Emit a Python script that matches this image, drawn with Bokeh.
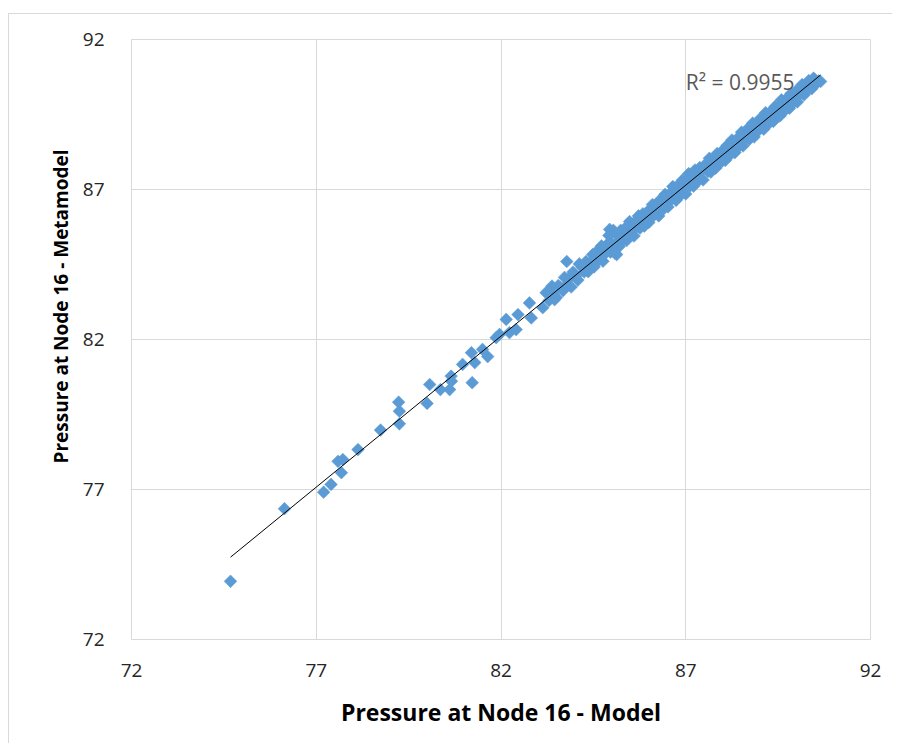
import numpy as np
from bokeh.plotting import figure
from bokeh.models import Range1d, FixedTicker, Label, ColumnDataSource, Title
from bokeh.embed import file_html
from bokeh.resources import INLINE

# ---- data ----
model_sparse = [74.68, 76.14, 77.20, 77.40, 77.59, 77.72, 77.68, 78.13, 78.74, 79.23,
                79.25, 79.25, 80.00, 80.07, 80.36, 80.61, 80.66, 80.65, 80.96, 81.22,
                81.20, 81.29, 81.50, 81.64, 81.87, 81.96, 82.14, 82.23, 82.41, 82.46,
                82.82, 82.77, 83.13, 83.22, 83.45, 83.78, 84.94, 85.13]
meta_sparse = [73.94, 76.36, 76.91, 77.17, 77.94, 78.00, 77.56, 78.33, 78.98, 79.91,
               79.61, 79.19, 79.87, 80.50, 80.33, 80.33, 80.61, 80.78, 81.17, 80.56,
               81.56, 81.23, 81.67, 81.43, 82.06, 82.17, 82.67, 82.23, 82.33, 82.83,
               82.72, 83.22, 83.06, 83.56, 83.33, 84.60, 85.67, 84.83]

model_band1 = [83.25, 83.30, 83.38, 83.42, 83.50, 83.55, 83.60, 83.68, 83.72, 83.80,
               83.85, 83.90, 83.95, 84.02, 84.08, 84.12, 84.20, 84.25, 84.30, 84.36,
               84.42, 84.48]
meta_band1 = [83.55, 83.30, 83.78, 83.52, 83.40, 83.80, 83.75, 83.63, 84.07, 83.85,
              84.05, 83.75, 84.25, 84.12, 83.98, 84.52, 84.40, 84.25, 84.60, 84.26,
              84.57, 84.83]

model_band2 = [84.52, 84.56, 84.60, 84.64, 84.68, 84.72, 84.76, 84.80, 84.84, 84.88,
               84.92, 84.96, 85.00, 85.04, 85.08, 85.12, 85.16, 85.20, 85.24, 85.28,
               85.32, 85.36, 85.40, 85.44, 85.48, 85.52, 85.56, 85.60, 85.64, 85.68,
               85.72, 85.76, 85.80, 85.84, 85.88, 85.92, 85.96]
meta_band2 = [84.42, 84.76, 84.95, 84.64, 84.83, 85.12, 84.61, 85.05, 84.89, 85.18,
              85.47, 84.91, 85.20, 85.64, 84.88, 85.22, 85.46, 85.10, 85.64, 85.43,
              85.32, 85.71, 85.30, 85.69, 85.93, 85.57, 85.76, 85.45, 85.94, 85.78,
              86.12, 85.71, 86.00, 86.19, 85.78, 86.07, 86.26]

model_band3 = [86.00, 86.05, 86.10, 86.14, 86.18, 86.22, 86.27, 86.31, 86.35, 86.40,
               86.44, 86.48, 86.52, 86.57, 86.61, 86.65, 86.70, 86.74, 86.78, 86.82,
               86.87, 86.91, 86.95, 87.00, 87.04, 87.08, 87.12, 87.17, 87.21, 87.25,
               87.30, 87.34, 87.38, 87.42, 87.47, 87.51, 87.55, 87.60, 87.64, 87.68,
               87.72, 87.77, 87.81, 87.85, 87.90, 87.94, 87.98]
meta_band3 = [85.90, 86.25, 86.50, 86.14, 86.48, 86.32, 86.12, 86.66, 86.50, 86.35,
              86.84, 86.68, 86.42, 86.87, 86.66, 87.10, 86.80, 86.64, 87.13, 87.02,
              86.82, 87.31, 87.10, 86.85, 87.34, 87.53, 87.12, 87.42, 87.11, 87.65,
              87.40, 87.29, 87.73, 87.62, 87.32, 87.81, 87.70, 87.60, 88.04, 87.58,
              87.97, 87.87, 87.71, 88.20, 88.10, 87.89, 88.28]

model_band4 = [88.03, 88.07, 88.12, 88.16, 88.20, 88.25, 88.29, 88.33, 88.38, 88.42,
               88.46, 88.51, 88.55, 88.59, 88.64, 88.68, 88.72, 88.77, 88.81, 88.85,
               88.90, 88.94, 88.98, 89.03, 89.07, 89.11, 89.16, 89.20, 89.24, 89.29,
               89.33, 89.37, 89.42, 89.46, 89.50, 89.55, 89.59, 89.63, 89.68, 89.72,
               89.76, 89.81, 89.85, 89.89, 89.94, 89.98, 90.02, 90.07, 90.11, 90.15,
               90.20, 90.24, 90.28, 90.33, 90.37, 90.41, 90.46, 90.50, 90.55, 90.60,
               90.65]
meta_band4 = [88.18, 87.97, 88.47, 88.36, 88.15, 88.65, 88.39, 88.23, 88.68, 88.62,
              88.46, 88.91, 88.45, 88.84, 88.74, 89.03, 88.67, 88.97, 89.21, 88.75,
              89.05, 89.24, 88.98, 89.38, 89.17, 89.01, 89.56, 89.40, 89.19, 89.59,
              89.48, 89.27, 89.77, 89.51, 89.75, 89.45, 89.99, 89.73, 89.63, 90.02,
              89.96, 89.71, 90.20, 90.04, 89.94, 90.28, 89.92, 90.32, 90.21, 90.50,
              90.15, 90.44, 90.28, 90.63, 90.47, 90.36, 90.71, 90.65, 90.55, 90.62,
              90.60]

ticks = [72, 77, 82, 87, 92]
r2_text = "R\u00b2 = 0.9955"
x_title = "Pressure at Node 16 - Model"
y_title = "Pressure at Node 16 - Metamodel"

model = model_sparse + model_band1 + model_band2 + model_band3 + model_band4
meta = meta_sparse + meta_band1 + meta_band2 + meta_band3 + meta_band4

# linear trend line fitted to the points
slope, intercept = np.polyfit(model, meta, 1)
fit_x = [min(model), max(model)]
fit_y = [slope * v + intercept for v in fit_x]

FONT = "Open Sans"

p = figure(width=884, height=730, output_backend="svg", toolbar_location=None,
           x_range=Range1d(72, 92), y_range=Range1d(72, 92),
           min_border_left=122, min_border_right=23, min_border_top=25,
           min_border_bottom=105)
p.styles = {"border-left": "1px solid #d9d9d9", "border-top": "1px solid #d9d9d9",
            "margin-left": "8px", "margin-top": "13px"}

p.background_fill_color = "white"
p.border_fill_color = "white"
p.outline_line_color = "#d9d9d9"
p.outline_line_width = 1

for ax in (p.xaxis, p.yaxis):
    ax.ticker = FixedTicker(ticks=ticks)
    ax.axis_line_color = None
    ax.major_tick_line_color = None
    ax.minor_tick_line_color = None
    ax.major_label_text_font = FONT
    ax.major_label_text_font_size = "19px"
    ax.major_label_text_color = "#262626"

p.xaxis.major_label_standoff = 18
p.yaxis.major_label_standoff = 21

p.xaxis.axis_label = x_title
p.xaxis.axis_label_text_font = FONT
p.xaxis.axis_label_text_font_style = "bold"
p.xaxis.axis_label_text_font_size = "23px"
p.xaxis.axis_label_text_color = "black"
p.xaxis.axis_label_standoff = 16

p.grid.grid_line_color = "#d9d9d9"
p.grid.grid_line_width = 1

src = ColumnDataSource(dict(x=model, y=meta))
p.scatter("x", "y", source=src, marker="square", size=9, angle=np.pi / 4,
          fill_color="#5b9bd5", line_color="#5b9bd5", line_width=0.5)

p.line(fit_x, fit_y, line_color="black", line_width=1)

p.add_layout(Label(x=87.0, y=90.6, text=r2_text, text_font=FONT,
                   text_font_size="21px", text_color="#595959",
                   text_baseline="middle", text_align="left"))

p.add_layout(Title(text=y_title, align="left", offset=176, text_font=FONT,
                   text_font_style="bold", text_font_size="19px",
                   text_color="black", standoff=12), "left")

open("out.html", "w").write(file_html(p, INLINE))
